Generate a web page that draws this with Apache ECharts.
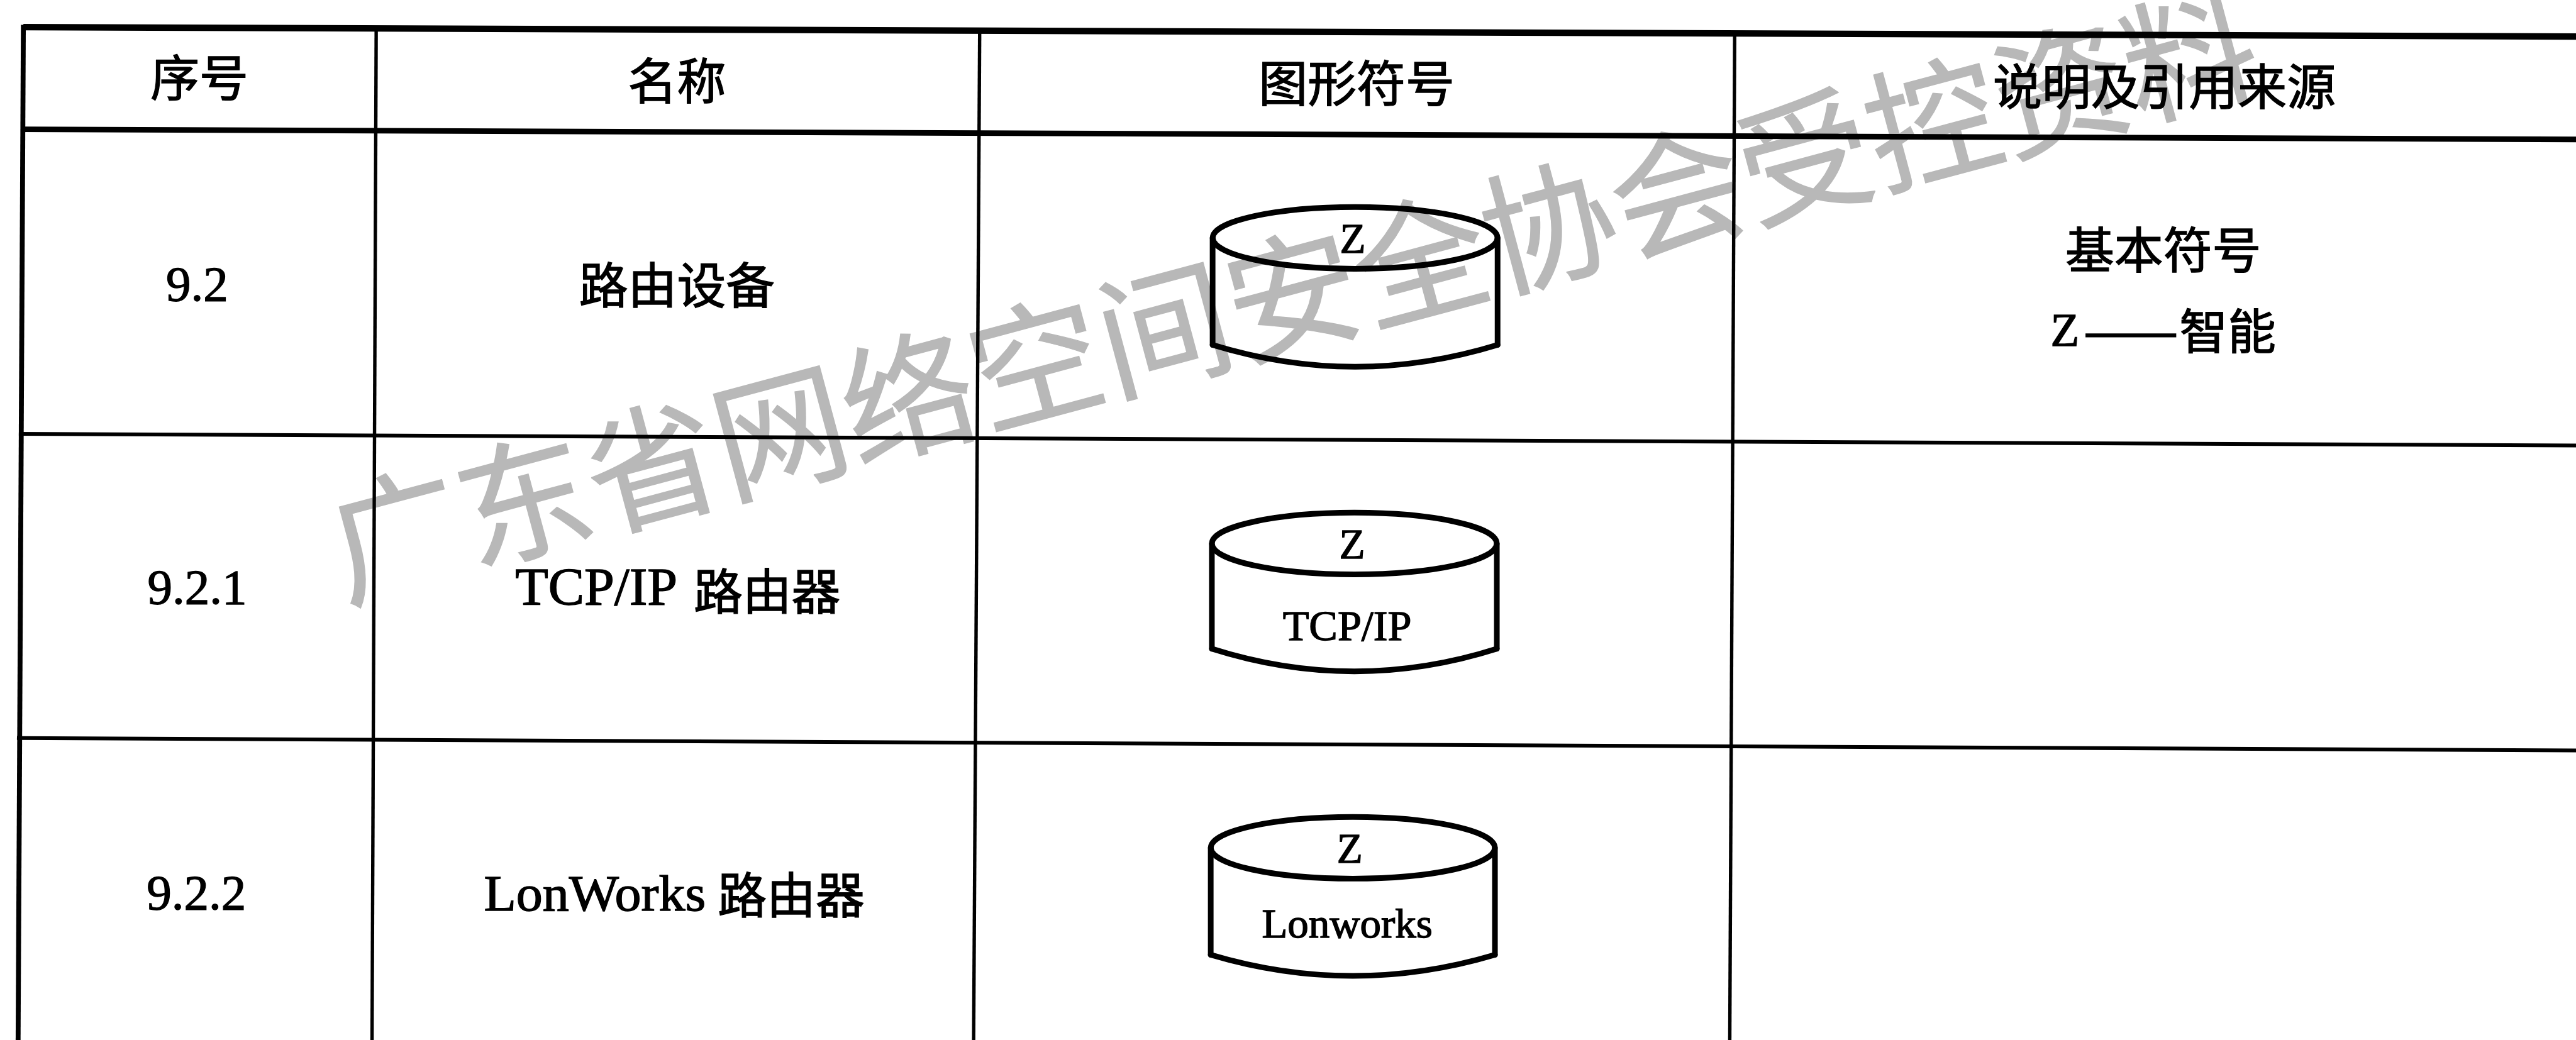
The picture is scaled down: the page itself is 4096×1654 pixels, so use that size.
<!DOCTYPE html>
<html>
<head>
<meta charset="utf-8">
<title>路由设备</title>
<script src="https://cdn.jsdelivr.net/npm/echarts@6/dist/echarts.min.js"></script>
<style>
html, body { margin: 0; padding: 0; background: #fff; }
#main { width: 4096px; height: 1654px; }
</style>
</head>
<body>
<div id="main"></div>
<script>
/* 表格内容 */
var headers = ['序号', '名称', '图形符号', '说明及引用来源'];
var serials = ['9.2', '9.2.1', '9.2.2'];
var nameLatin = ['TCP/IP', 'LonWorks'];
var nameCjk = ['路由设备', '路由器', '路由器'];
var symbolTop = 'Z';
var symbolBody = ['TCP/IP', 'Lonworks'];
var notes = ['基本符号', 'Z', '——', '智能'];
var watermark = '广东省网络空间安全协会受控资料';

/* 缩放比例，坐标轴用原图像素 */
var SCALE = 0.599;
var WIDTH = 6834;
var HEIGHT = 2759;

// 表格线 x1, y1, x2, y2, 线宽
var rules = [
	[62, 72, 6834, 97, 17],
	[57, 343, 6834, 370, 15],
	[50, 1151, 6834, 1182, 10],
	[45, 1958, 6834, 1991, 10],
	[62, 66, 48, 2759, 13],
	[998, 78, 987, 2759, 9],
	[2599, 85, 2583, 2759, 9],
	[4602, 90, 4589, 2759, 9]
];

// 圆柱 cx, cy, rx, ry, 侧边下端 y, 最低点 y
var cylinders = [
	[3595, 631, 378, 82, 915, 973],
	[3593, 1442, 378, 82, 1721, 1781],
	[3589, 2249, 377, 82, 2533, 2589]
];

// 文字 x, y, 内容, 字体, 字号, 横向拉伸
var labels = [
	[529, 206, headers[0], 'cjk', 130, 1],
	[1796, 214, headers[1], 'cjk', 130, 1],
	[3599, 221, headers[2], 'cjk', 130, 1],
	[5742, 230, headers[3], 'cjk', 130, 1],
	[523, 762, serials[0], 'latin', 132, 1],
	[523, 1566, serials[1], 'latin', 132, 1],
	[521, 2378, serials[2], 'latin', 132, 1],
	[1796, 756, nameCjk[0], 'cjk', 130, 1],
	[1582, 1568, nameLatin[0], 'latin', 140, 1.025],
	[2035, 1568, nameCjk[1], 'cjk', 130, 1],
	[1578, 2380, nameLatin[1], 'latin', 134, 1.047],
	[2099, 2375, nameCjk[2], 'cjk', 130, 1],
	[3589, 642, symbolTop, 'latin', 112, 1],
	[3587, 1452, symbolTop, 'latin', 112, 1],
	[3581, 2259, symbolTop, 'latin', 112, 1],
	[3574, 1668, symbolBody[0], 'latin', 114, 1],
	[3574, 2459, symbolBody[1], 'latin', 110, 1.016],
	[5739, 663, notes[0], 'cjk', 130, 1],
	[5478, 885, notes[1], 'latin', 125, 1],
	[5653, 878, notes[2], 'cjk', 128, 1.175],
	[5910, 878, notes[3], 'cjk', 128, 1]
];

var FONTS = {
	cjk: '"Noto Sans CJK SC"',
	latin: '"Liberation Serif"'
};

function renderRule(params, api) {
	var a = api.coord([api.value(0), api.value(1)]);
	var b = api.coord([api.value(2), api.value(3)]);
	return {
		type: 'line',
		shape: { x1: a[0], y1: a[1], x2: b[0], y2: b[1] },
		style: { stroke: '#000', lineWidth: api.value(4) * SCALE, fill: null }
	};
}

function renderCylinder(params, api) {
	var cx = api.value(0), cy = api.value(1);
	var rx = api.value(2), ry = api.value(3);
	var side = api.value(4), low = api.value(5);
	var center = api.coord([cx, cy]);
	var lt = api.coord([cx - rx, cy]);
	var rt = api.coord([cx + rx, cy]);
	var lb = api.coord([cx - rx, side]);
	var rb = api.coord([cx + rx, side]);
	var ctrl = api.coord([cx, 2 * low - side]);
	var stroke = { stroke: '#000', lineWidth: 15 * SCALE, fill: null, lineCap: 'round' };
	return {
		type: 'group',
		children: [
			{
				type: 'ellipse',
				shape: { cx: center[0], cy: center[1], rx: rx * SCALE, ry: ry * SCALE },
				style: stroke
			},
			{
				type: 'line',
				shape: { x1: lt[0], y1: lt[1], x2: lb[0], y2: lb[1] },
				style: stroke
			},
			{
				type: 'line',
				shape: { x1: rt[0], y1: rt[1], x2: rb[0], y2: rb[1] },
				style: stroke
			},
			{
				type: 'bezierCurve',
				shape: { x1: lb[0], y1: lb[1], x2: rb[0], y2: rb[1], cpx1: ctrl[0], cpy1: ctrl[1] },
				style: stroke
			}
		]
	};
}

function renderLabel(params, api) {
	var item = labels[params.dataIndex];
	var p = api.coord([item[0], item[1]]);
	return {
		type: 'text',
		x: p[0],
		y: p[1],
		scaleX: item[5],
		style: {
			text: item[2],
			fill: '#000',
			stroke: '#000',
			lineWidth: 1.4,
			font: (item[4] * SCALE) + 'px ' + FONTS[item[3]],
			textAlign: 'center',
			textVerticalAlign: 'middle'
		}
	};
}

function renderWatermark(params, api) {
	var p = api.coord([api.value(0), api.value(1)]);
	return {
		type: 'text',
		x: p[0],
		y: p[1],
		rotation: 15 * Math.PI / 180,
		style: {
			text: watermark,
			fill: '#b8b8b8',
			stroke: '#b8b8b8',
			lineWidth: 1.5,
			font: (352 * SCALE) + 'px ' + FONTS.cjk,
			textAlign: 'center',
			textVerticalAlign: 'middle'
		}
	};
}

var myChart = echarts.init(document.getElementById('main'));
myChart.setOption({
	animation: false,
	backgroundColor: '#fff',
	grid: { left: 0, right: 0, top: 0, bottom: 0 },
	xAxis: { type: 'value', min: 0, max: WIDTH, show: false },
	yAxis: { type: 'value', min: 0, max: HEIGHT, inverse: true, show: false },
	tooltip: { show: false },
	series: [
		{ type: 'custom', renderItem: renderWatermark, data: [[3428, 780]], silent: true },
		{ type: 'custom', renderItem: renderRule, data: rules, silent: true },
		{ type: 'custom', renderItem: renderCylinder, data: cylinders, silent: true },
		{
			type: 'custom',
			renderItem: renderLabel,
			silent: true,
			data: labels.map(function(item) {
				return [item[0], item[1]];
			})
		}
	]
});
</script>
</body>
</html>
